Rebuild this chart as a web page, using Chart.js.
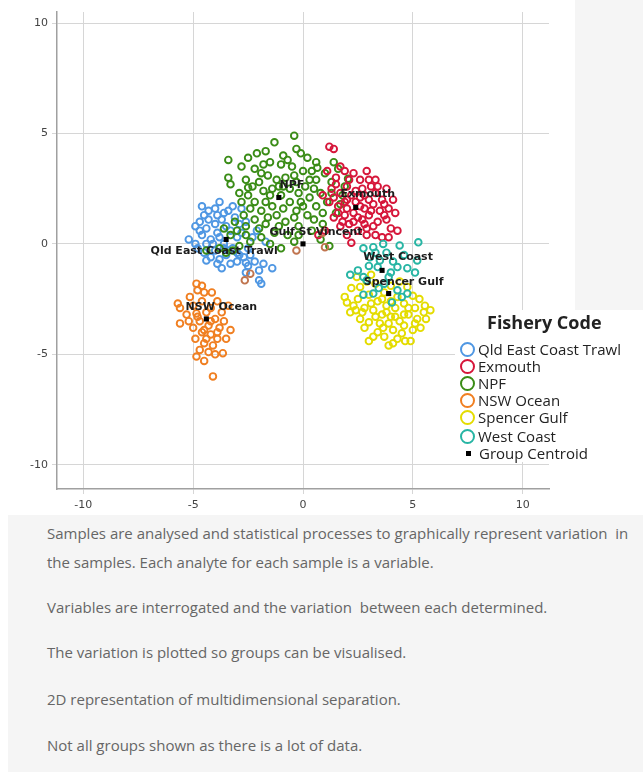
<!DOCTYPE html>
<html><head><meta charset="utf-8">
<script src="https://cdn.jsdelivr.net/npm/chart.js@4.4.1/dist/chart.umd.min.js"></script>
<style>
html,body{margin:0;padding:0;}
body{width:643px;height:772px;background:#fff;position:relative;overflow:hidden;font-family:"Open Sans",sans-serif;}
#greyTop{position:absolute;left:575px;top:0;width:68px;height:310px;background:#f5f5f5;}
#chartBox{position:absolute;left:0;top:0;width:575px;height:515px;background:#fff;}
#legend{position:absolute;left:455px;top:310px;width:188px;height:152px;background:#fff;}
#legend .title{position:absolute;left:32px;top:0px;font-weight:bold;font-size:18px;line-height:25px;color:#222;white-space:nowrap;}
#legend .row{position:absolute;left:5px;height:18px;line-height:18px;font-size:15px;color:#222;white-space:nowrap;}
#legend .ic{display:inline-block;width:11px;height:11px;border-radius:50%;border:2px solid;vertical-align:middle;margin-right:3px;position:relative;top:-1px;}
#legend .sq{display:inline-block;width:5px;height:5px;background:#000;vertical-align:middle;margin:0 8px 0 6px;position:relative;top:-1px;}
#panel{position:absolute;left:8px;top:515px;width:635px;height:257px;background:#f5f5f5;}
#panel p{position:absolute;left:39px;margin:0;font-size:15px;line-height:29px;color:#666;white-space:nowrap;letter-spacing:0px;}
</style></head>
<body>
<div id="greyTop"></div>
<div id="chartBox"><canvas id="c" width="575" height="515"></canvas></div>
<div id="legend">
  <div class="title">Fishery Code</div>
  <div class="row" style="top:30px"><span class="ic" style="border-color:#4f97e3"></span>Qld East Coast Trawl</div>
  <div class="row" style="top:47px"><span class="ic" style="border-color:#d6163a"></span>Exmouth</div>
  <div class="row" style="top:64px"><span class="ic" style="border-color:#3a8c16"></span>NPF</div>
  <div class="row" style="top:81px"><span class="ic" style="border-color:#f07f21"></span>NSW Ocean</div>
  <div class="row" style="top:98px"><span class="ic" style="border-color:#e4dc00"></span>Spencer Gulf</div>
  <div class="row" style="top:117px"><span class="ic" style="border-color:#27b5a4"></span>West Coast</div>
  <div class="row" style="top:134px"><span class="sq"></span>Group Centroid</div>
</div>
<div id="panel">
  <p style="top:4px">Samples are analysed and statistical processes to graphically represent variation &nbsp;in<br>the samples. Each analyte for each sample is a variable.</p>
  <p style="top:78px">Variables are interrogated and the variation &nbsp;between each determined.</p>
  <p style="top:123px">The variation is plotted so groups can be visualised.</p>
  <p style="top:170px">2D representation of multidimensional separation.</p>
  <p style="top:216px">Not all groups shown as there is a lot of data.</p>
</div>
<script>
// ---- data ----
const xTicks = [-10, -5, 0, 5, 10];
const yTicks = [-10, -5, 0, 5, 10];

const qldPoints = [[-4.7,1.0],[-4.9,0.8],[-4.5,1.3],[-4.3,1.5],[-4.0,1.6],[-3.8,1.9],[-3.4,1.5],[-3.1,1.2],[-2.8,1.6],[-2.6,1.0],
 [-4.6,0.4],[-4.4,0.7],[-4.2,0.2],[-4.0,0.9],[-3.9,0.5],[-3.7,1.1],[-3.6,0.0],[-3.3,0.6],[-3.2,-0.2],[-3.0,0.3],
 [-2.9,-0.5],[-4.8,-0.2],[-4.5,-0.4],[-4.2,-0.6],[-4.0,-0.3],[-3.8,-0.7],[-3.5,-0.5],[-3.3,-0.9],[-3.0,-0.8],[-2.7,-0.6],
 [-2.5,-1.0],[-2.2,-0.8],[-2.0,-1.2],[-1.8,-0.9],[-1.4,-1.1],[-2.6,-1.3],[-2.0,-1.65],[-1.9,-1.8],[-3.7,-1.1],[-4.4,-0.75],
 [-5.2,0.2],[-4.9,0.0],[-4.1,0.0],[-3.5,0.8],[-2.8,0.5],[-2.5,-0.2],[-2.3,0.3],[-3.9,-0.9],[-3.9,1.3],[-3.2,1.7],
 [-2.6,-0.85],[-4.6,1.7],[-1.7,0.1],[-2.1,0.6],[-4.3,1.1],[-3.6,1.4],[-3.8,0.3],[-3.4,-0.3],[-4.4,0.0],[-3.0,-0.4],
 [-2.9,0.9],[-4.7,0.6],[-2.4,-0.5],[-3.6,-0.2]];

const exmouthPoints = [[1.2,4.4],[1.4,4.3],[1.1,3.3],[1.7,3.5],[1.9,3.3],[1.5,3.0],[2.3,3.2],[2.6,2.9],[3.0,2.9],[3.1,2.6],
 [3.8,2.5],[1.3,2.5],[1.7,2.3],[2.0,2.6],[2.4,2.4],[2.8,2.2],[3.3,2.3],[3.6,2.0],[1.2,1.9],[1.6,1.7],
 [2.0,2.0],[2.4,1.9],[2.8,1.6],[3.2,1.8],[3.5,1.5],[3.9,1.6],[4.2,1.4],[1.4,1.2],[1.9,1.3],[2.3,1.4],
 [2.7,1.1],[3.0,1.3],[3.4,1.0],[3.8,1.1],[4.0,0.7],[4.3,0.6],[1.7,0.8],[2.1,0.9],[2.5,0.6],[2.9,0.7],
 [3.3,0.4],[3.6,0.3],[2.2,0.05],[2.9,0.4],[0.7,0.4],[1.0,0.6],[2.6,1.7],[3.0,2.0],[1.8,1.0],[2.2,2.2],
 [3.7,1.3],[2.5,1.2],[0.9,2.2],[1.6,1.4],[2.0,1.6],[3.4,2.6],[2.7,2.5],[1.5,2.7],[2.1,2.9],[2.9,3.3],
 [3.3,2.9],[1.9,1.9],[2.6,2.1],[3.1,1.5],[3.7,1.8],[2.3,1.0],[2.8,0.9],[3.2,0.8],[1.4,2.1],[4.1,2.0],
 [2.0,0.4],[3.9,0.3]];

const npfPoints = [[-0.4,4.9],[-1.3,4.6],[-0.3,4.3],[-1.7,4.2],[-2.1,4.1],[-2.5,3.9],[-3.4,3.8],[-0.9,4.0],[0.2,3.9],[-1.0,3.6],
 [-1.5,3.7],[-0.5,3.5],[0.4,3.3],[-2.2,3.4],[-2.8,3.5],[-3.4,3.0],[-3.3,2.7],[-2.5,2.55],[-2.5,2.2],[-2.9,2.3],
 [-2.0,2.8],[-1.8,2.4],[-2.2,1.9],[-1.6,3.1],[-1.2,2.9],[-0.8,3.0],[-0.3,2.8],[0.1,2.6],[0.6,2.9],[1.0,3.2],
 [1.3,2.8],[1.6,3.4],[1.9,2.6],[0.8,2.3],[0.3,2.1],[-0.2,2.3],[-0.6,1.9],[-1.0,2.2],[-1.4,1.7],[-1.9,1.5],
 [-2.4,1.6],[-2.7,1.3],[-3.1,1.0],[-2.6,0.8],[-2.2,1.1],[-1.7,0.9],[-1.2,1.3],[-0.8,1.0],[-0.3,1.5],[0.2,1.3],
 [0.6,1.7],[1.1,1.9],[1.5,1.4],[0.9,0.9],[0.4,0.6],[-0.2,0.8],[-0.7,0.4],[-1.3,0.5],[-1.9,0.3],[-2.4,0.1],
 [-2.9,-0.1],[-3.3,0.4],[-3.6,0.7],[-3.0,0.6],[-3.8,-0.2],[-4.4,-0.3],[-3.5,-0.4],[-1.0,-0.2],[-0.4,0.1],[0.8,0.2],
 [1.2,-0.1],[1.8,2.2],[1.4,3.7],[0.0,3.3],[-2.6,2.9],[-1.5,2.2],[-0.9,1.6],[-0.1,1.9],[0.5,2.5],[-1.1,2.6],
 [-0.6,2.5],[-1.9,3.2],[0.9,1.4],[-2.8,1.9],[-1.6,1.2],[0.65,3.45],[2.05,2.95],[-1.8,3.6],[-0.7,3.8],[-0.1,4.1],
 [0.6,3.7],[-2.3,2.6],[-1.4,2.5],[-0.4,3.1],[0.3,2.9],[-0.9,2.6],[-1.7,1.9],[-0.4,1.2],[0.0,1.7],[-1.1,0.8],
 [-2.0,0.7],[1.3,2.3],[1.7,1.8],[-0.2,0.4],[0.5,1.1],[-2.6,0.4],[-3.2,-0.3],[-1.5,0.0]];

const nswPoints = [[-4.85,-1.8],[-4.8,-2.1],[-4.5,-2.2],[-4.15,-2.2],[-5.15,-2.4],[-5.7,-2.7],[-5.6,-2.9],[-3.4,-2.8],[-3.7,-3.1],[-4.85,-3.15],
 [-5.6,-3.6],[-5.3,-3.2],[-5.0,-2.8],[-4.6,-2.6],[-4.2,-2.9],[-3.9,-2.6],[-4.7,-3.5],[-4.3,-3.7],[-4.0,-3.4],[-3.8,-3.8],
 [-5.0,-3.8],[-4.6,-4.0],[-4.2,-4.1],[-3.9,-4.3],[-4.9,-4.3],[-4.5,-4.5],[-4.1,-4.6],[-3.5,-4.3],[-4.7,-4.8],[-4.3,-4.9],
 [-3.65,-4.95],[-4.85,-5.1],[-4.1,-6.0],[-4.4,-3.1],[-5.2,-3.5],[-3.6,-3.5],[-4.0,-5.0],[-4.5,-5.3],[-3.3,-3.9],[-4.6,-1.9],
 [-4.5,-3.9],[-4.2,-3.5],[-4.8,-3.3],[-3.9,-4.0],[-4.4,-4.3]];

const spencerPoints = [[1.9,-2.4],[2.0,-2.65],[2.3,-2.8],[2.15,-3.1],[2.6,-3.4],[3.0,-3.55],[3.2,-4.2],[3.65,-3.8],[4.1,-3.9],[4.5,-4.05],
 [4.65,-4.4],[5.0,-3.9],[5.35,-3.8],[5.55,-2.8],[5.5,-3.1],[5.0,-2.35],[4.75,-1.95],[2.6,-1.95],[2.45,-1.5],[4.0,-1.9],
 [3.9,-4.6],[5.8,-3.0],[5.2,-3.4],[4.8,-3.2],[4.4,-3.5],[4.0,-3.3],[3.6,-3.2],[3.2,-3.0],[2.8,-2.9],[2.5,-2.5],
 [3.0,-2.3],[3.4,-2.6],[3.8,-2.8],[4.2,-2.9],[4.6,-2.7],[5.1,-2.9],[3.3,-1.8],[3.7,-2.2],[4.3,-2.4],[2.9,-1.7],
 [3.5,-3.6],[4.3,-4.3],[2.8,-3.8],[3.4,-4.0],[5.3,-2.5],[4.9,-4.4],[3.0,-4.4],[2.2,-2.0],[3.9,-3.6],[4.6,-3.7],
 [5.6,-3.4],[3.6,-2.5],[4.0,-2.6],[2.7,-3.1],[4.4,-1.7],[3.1,-1.4],[3.3,-3.3],[3.8,-3.1],[4.2,-3.3],[4.6,-3.2],
 [3.1,-2.7],[4.8,-2.9],[2.4,-3.0],[3.7,-4.2],[4.1,-4.5],[5.1,-3.6]];

const westPoints = [[5.25,0.07],[4.4,-0.07],[3.2,-0.15],[3.65,0.0],[2.75,-0.2],[3.05,-0.6],[3.5,-0.75],[3.4,-1.05],[2.15,-1.4],[2.75,-1.5],
 [4.3,-1.05],[4.75,-1.1],[5.1,-1.3],[3.9,-1.5],[2.75,-2.3],[3.2,-2.25],[3.45,-2.0],[4.3,-2.1],[4.5,-2.4],[4.75,-2.25],
 [4.05,-2.65],[2.9,-1.65],[5.2,-0.75],[3.8,-0.4],[4.1,-0.8],[3.0,-1.0],[3.7,-1.8],[4.6,-0.5],[3.3,-0.4],[2.5,-1.2],
 [4.0,-1.3]];

const gulfPoints = [[1.0,-0.15],[-2.65,-1.65],[-2.4,-1.35],[0.9,0.5],[-0.3,-0.3]];

const centroidNames = ['Qld East Coast Trawl','NPF','Exmouth','Gulf St Vincent','NSW Ocean','West Coast','Spencer Gulf'];
const centroidX = [-3.5, -1.1, 2.4, 0.0, -4.4, 3.6, 3.9];
const centroidY = [0.2, 2.1, 1.65, 0.0, -3.4, -1.2, -2.25];

// ---- styles ----
const labelOffsets = [[-12,12],[13,-12],[12,-13],[13,-12],[15,-12],[16,-13],[15,-11]];
const toXY = arr => arr.map(p => ({x: p[0], y: p[1]}));
function pts(label, arr, color, order){
  return {label, data: toXY(arr), borderColor: color, backgroundColor: 'rgba(255,255,255,0)',
    pointStyle: 'circle', pointRadius: 3.3, pointBorderWidth: 1.9, pointHoverRadius: 3.3, order};
}
const centroidData = centroidX.map((v,i)=>({x: v, y: centroidY[i]}));

const labelPlugin = {
  id: 'centroidLabels',
  afterDatasetsDraw(chart){
    const {ctx, scales:{x, y}} = chart;
    ctx.save();
    ctx.font = 'bold 11px "DejaVu Sans"';
    ctx.fillStyle = '#1c1c1c';
    ctx.textAlign = 'center';
    ctx.textBaseline = 'middle';
    centroidNames.forEach((n,i)=>{
      const px = x.getPixelForValue(centroidX[i]);
      const py = y.getPixelForValue(centroidY[i]);
      ctx.fillText(n, px + labelOffsets[i][0], py + labelOffsets[i][1]);
    });
    ctx.restore();
  }
};

const tickFont = {family: '"DejaVu Sans"', size: 11};
new Chart(document.getElementById('c'), {
  type: 'scatter',
  data: {datasets: [
    {label:'Group Centroid', data: centroidData, pointStyle:'rect', pointRadius:3.6, pointHoverRadius:3.6,
      backgroundColor:'#000', borderColor:'#000', pointBorderWidth:0, order:0},
    pts('West Coast', westPoints, '#27b5a4', 1),
    pts('Spencer Gulf', spencerPoints, '#e4dc00', 2),
    pts('Gulf St Vincent', gulfPoints, '#c0744e', 3),
    pts('Exmouth', exmouthPoints, '#d6163a', 4),
    pts('NPF', npfPoints, '#3a8c16', 5),
    pts('Qld East Coast Trawl', qldPoints, '#4f97e3', 6),
    pts('NSW Ocean', nswPoints, '#f07f21', 7)
  ]},
  options: {
    responsive: false, animation: false,
    layout: {padding: {top: 12, right: 26, bottom: 0, left: 0}},
    plugins: {legend: {display: false}, tooltip: {enabled: false}},
    scales: {
      x: {type: 'linear', min: -11.2, max: 11.2,
        afterBuildTicks: s => { s.ticks = xTicks.map(v => ({value: v})); },
        afterFit: s => { s.height = 26; },
        ticks: {font: tickFont, color: '#444', padding: 5},
        grid: {color: '#d6d6d6', lineWidth: 1, tickLength: 5},
        border: {color: '#a0a0a0', width: 1.5}},
      y: {type: 'linear', min: -11.1, max: 10.5,
        afterBuildTicks: s => { s.ticks = yTicks.map(v => ({value: v})); },
        afterFit: s => { s.width = 57; },
        ticks: {font: tickFont, color: '#444', padding: 4},
        grid: {color: '#d6d6d6', lineWidth: 1, tickLength: 5},
        border: {color: '#a0a0a0', width: 1.5}}
    }
  },
  plugins: [labelPlugin]
});
</script>
</body></html>
